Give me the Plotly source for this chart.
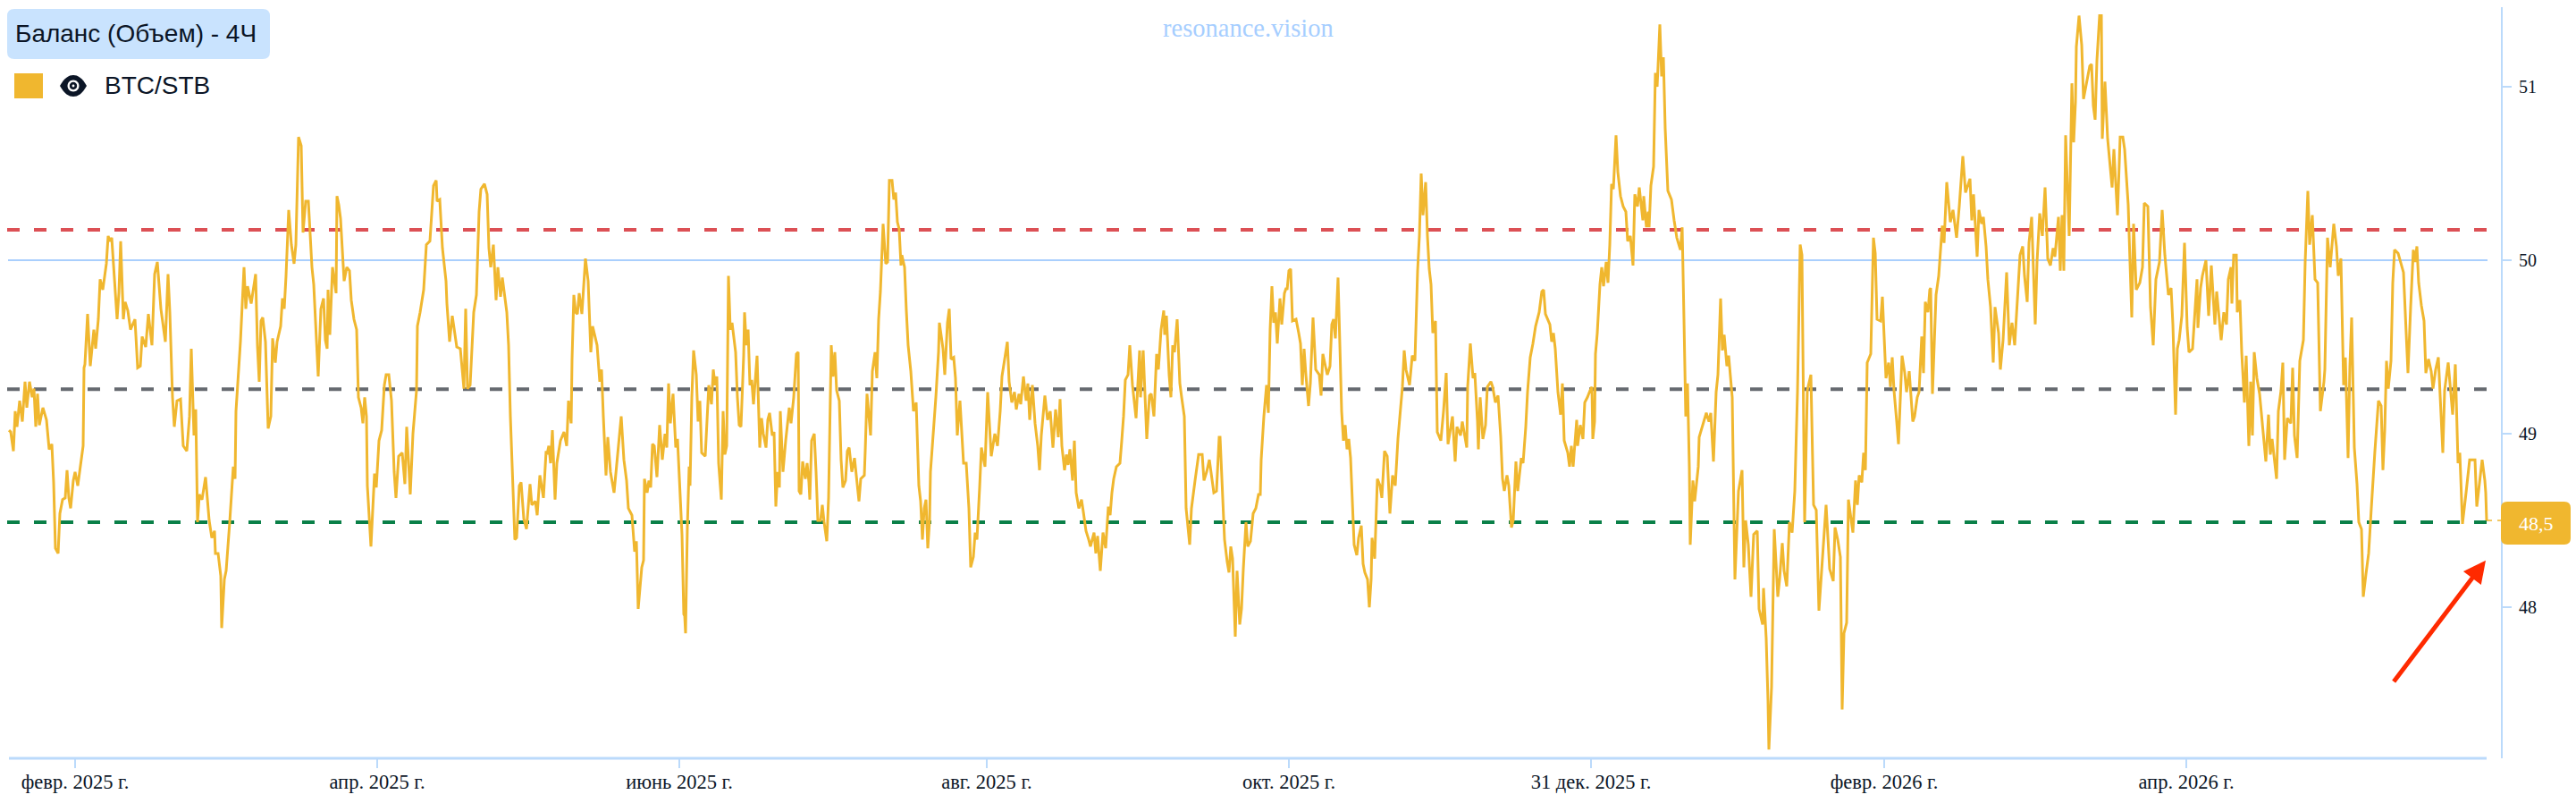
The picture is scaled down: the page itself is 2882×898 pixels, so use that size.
import plotly.graph_objects as go

# Balance (volume), 4H bars: (bar number, BTC/STB reading)
readings = [
(0,49.02),(2,49.01),(5,48.90),(7,49.13),(9,49.04),(12,49.19),(15,49.07),(18,49.30),(20,49.15),(23,49.30),
(26,49.21),(28,49.26),(30,49.04),(32,49.23),(34,49.05),(38,49.15),(42,49.08),(45,48.91),(48,48.94),(50,48.72),
(52,48.34),(55,48.31),(57,48.54),(60,48.62),(63,48.63),(65,48.79),(67,48.63),(69,48.57),(72,48.73),(74,48.78),
(77,48.70),(80,48.81),(83,48.93),(84,49.38),(85,49.40),(88,49.69),(91,49.39),(95,49.60),(97,49.49),(100,49.66),
(102,49.89),(105,49.83),(107,49.91),(109,49.98),(111,50.14),(113,50.11),(115,50.13),(119,49.80),(121,49.66),(123,49.81),
(125,50.11),(128,49.66),(130,49.76),(133,49.71),(136,49.60),(141,49.66),(144,49.38),(147,49.39),(149,49.56),(153,49.50),
(156,49.69),(160,49.51),(163,49.92),(166,49.99),(170,49.72),(175,49.53),(178,49.92),(180,49.70),(183,49.21),(185,49.04),
(188,49.19),(192,49.20),(195,48.93),(199,48.90),(202,49.10),(204,49.49),(207,48.99),(209,49.14),(211,48.49),(213,48.65),
(216,48.62),(220,48.75),(224,48.50),(227,48.40),(230,48.44),(231,48.31),(234,48.31),(237,48.18),(238,47.88),(241,48.16),
(243,48.21),(247,48.49),(251,48.81),(253,48.74),(254,49.13),(259,49.53),(261,49.79),(263,49.96),(265,49.72),(267,49.85),
(271,49.75),(276,49.92),(278,49.51),(280,49.30),(282,49.65),(284,49.67),(287,49.53),(290,49.03),(293,49.10),(295,49.55),
(298,49.41),(300,49.53),(304,49.62),(306,49.78),(308,49.72),(310,49.91),(313,50.29),(316,50.09),(319,49.98),(321,50.09),
(324,50.71),(327,50.66),(329,50.16),(332,50.34),(335,50.34),(339,49.96),(341,49.86),(344,49.55),(346,49.33),(349,49.72),
(352,49.78),(354,49.54),(356,49.49),(357,49.83),(359,49.57),(362,49.96),(366,49.81),(367,50.37),(369,50.32),(371,50.24),
(375,49.88),(378,49.96),(381,49.94),(383,49.77),(386,49.66),(389,49.60),(391,49.21),(394,49.15),(396,49.06),(398,49.21),
(400,49.10),(401,48.70),(403,48.49),(405,48.35),(409,48.77),(411,48.69),(414,48.96),(417,49.02),(420,49.28),(422,49.34),
(425,49.34),(428,49.19),(431,48.78),(433,48.63),(436,48.87),(440,48.89),(443,48.71),(445,49.04),(449,48.65),(452,49.00),
(456,49.25),(457,49.62),(460,49.70),(464,49.83),(467,50.09),(471,50.11),(475,50.43),(478,50.46),(479,50.34),(482,50.35),
(485,50.07),(489,49.88),(490,49.75),(493,49.53),(496,49.68),(501,49.50),(505,49.49),(509,49.26),(511,49.72),(513,49.26),
(516,49.28),(520,49.70),(523,49.80),(526,50.28),(528,50.41),(532,50.44),(535,50.38),(537,50.07),(539,49.96),(542,50.09),
(545,49.77),(547,49.96),(550,49.79),(552,49.90),(557,49.70),(559,49.51),(561,49.10),(563,48.78),(566,48.39),(568,48.40),
(571,48.70),(573,48.72),(576,48.51),(579,48.45),(583,48.71),(585,48.59),(589,48.61),(591,48.53),(594,48.76),(598,48.63),
(601,48.90),(602,48.88),(604,48.93),(606,48.83),(608,49.02),(611,48.62),(613,48.83),(617,48.96),(621,49.01),(624,48.93),
(626,49.19),(629,49.06),(630,49.43),(632,49.80),(634,49.70),(636,49.69),(638,49.81),(641,49.69),(645,50.01),(648,49.88),
(651,49.47),(653,49.62),(656,49.55),(658,49.51),(661,49.30),(663,49.37),(665,49.10),(668,48.76),(670,48.98),(673,48.78),
(677,48.66),(680,48.83),(685,49.10),(688,48.85),(691,48.73),(693,48.57),(697,48.53),(700,48.32),(702,48.38),(704,47.99),
(707,48.21),(708,48.23),
(710,48.27),(711,48.74),(714,48.66),(716,48.73),(718,48.69),(720,48.94),(722,48.93),(725,48.75),(728,49.05),(731,48.85),
(734,49.00),(736,48.92),(738,49.29),(740,49.06),(743,49.23),(746,48.92),(748,48.97),(749,48.85),(751,48.57),(753,48.42),
(755,47.96),(756,47.95),(757,47.85),(759,48.46),(761,48.81),(762,48.70),(764,49.21),(766,49.48),(769,49.34),(771,49.07),
(773,49.19),(775,48.89),(779,48.87),(782,49.13),(783,49.28),(786,49.17),(788,49.37),(790,49.28),(792,49.33),(794,48.83),
(797,48.62),(799,49.13),(801,48.88),(803,48.93),(805,49.91),(807,49.60),(809,49.64),(813,49.47),(815,49.21),(817,49.05),
(819,49.04),(822,49.45),(823,49.70),(825,49.51),(827,49.60),(829,49.28),(831,49.31),(833,49.17),(837,49.45),(840,48.92),
(842,49.09),(844,49.00),(847,48.92),(849,49.08),(851,49.12),(854,48.99),(856,49.01),(858,48.58),(860,48.78),(862,48.69),
(863,49.13),(866,48.78),(869,48.96),(873,49.15),(875,49.06),(878,49.21),(881,49.46),(883,49.47),(884,48.67),(886,48.65),
(888,48.84),(891,48.74),(893,48.83),(895,48.72),(896,48.62),(898,48.96),(901,49.00),(903,48.78),(905,48.50),(908,48.50),
(910,48.59),(912,48.49),(915,48.38),(917,48.63),(919,49.28),(920,49.51),(922,49.33),(924,49.47),(926,49.25),(929,49.19),
(931,48.85),(933,48.69),(936,48.73),(938,48.90),(940,48.92),(943,48.78),(946,48.86),(948,48.76),(951,48.61),(953,48.74),
(957,48.76),(958,48.90),(960,49.23),(964,48.99),(966,49.36),(969,49.47),(971,49.32),(973,49.66),(975,49.82),(978,50.21),
(981,49.98),(983,49.99),(985,50.46),(988,50.46),(990,50.35),(992,50.39),(994,50.22),(996,50.18),(998,49.97),(999,50.03),
(1002,49.96),(1004,49.71),(1006,49.51),(1009,49.36),(1012,49.13),(1015,49.18),(1018,48.70),(1020,48.61),(1022,48.39),(1024,48.57),
(1026,48.62),(1028,48.34),(1030,48.50),(1031,48.78),(1034,48.98),(1037,49.21),(1040,49.47),(1041,49.64),(1045,49.49),(1047,49.34),
(1050,49.64),(1052,49.72),(1054,49.43),(1057,49.44),(1059,49.32),(1061,48.99),(1064,49.19),(1068,48.83),(1071,48.83),(1074,48.57),
(1076,48.23),(1079,48.29),(1081,48.43),(1083,48.39),(1086,48.69),(1088,48.92),(1092,48.81),(1095,49.24),(1099,48.87),(1103,49.00),
(1106,48.93),(1109,49.13),(1111,49.33),(1117,49.53),(1119,49.30),(1122,49.18),(1125,49.24),(1127,49.14),(1130,49.23),(1132,49.17),
(1135,49.33),(1138,49.19),(1140,49.29),(1142,49.08),(1145,49.28),(1148,49.06),(1151,48.93),(1153,48.79),(1155,48.99),(1159,49.22),
(1162,49.08),(1165,49.13),(1168,48.92),(1171,49.14),(1174,48.98),(1176,49.20),(1178,48.93),(1181,48.79),(1183,48.88),(1185,48.82),
(1187,48.91),(1190,48.73),(1192,48.96),(1194,48.66),(1197,48.57),(1200,48.62),(1202,48.55),(1205,48.44),(1208,48.39),(1210,48.35),
(1214,48.43),(1216,48.31),(1218,48.41),(1221,48.21),(1224,48.43),(1227,48.34),(1230,48.58),(1232,48.53),(1234,48.66),(1236,48.74),
(1239,48.81),(1243,48.83),(1245,48.96),(1247,49.10),(1249,49.31),(1252,49.34),(1254,49.51),(1257,49.28),(1261,49.09),(1265,49.48),
(1266,49.21),(1269,49.48),(1273,48.97),(1276,49.22),(1278,49.23),(1281,49.10),(1284,49.46),(1286,49.37),(1289,49.60),(1292,49.71),
(1293,49.57),(1295,49.68),(1298,49.34),(1300,49.21),(1302,49.51),(1304,49.47),(1307,49.66),(1310,49.29),(1312,49.21),(1315,49.10),
(1317,48.57),(1321,48.36),(1323,48.57),(1325,48.66),(1327,48.73),(1331,48.88),(1335,48.88),(1337,48.73),(1340,48.78),(1343,48.85),
(1345,48.78),(1348,48.66),(1351,48.67),(1354,48.98),(1355,48.98),(1358,48.63),(1360,48.39),(1363,48.26),(1365,48.20),(1367,48.35),
(1369,48.28),(1372,47.83),(1374,48.21),(1377,47.90),(1379,47.99),(1381,48.22),(1384,48.49),(1386,48.35),(1389,48.38),(1392,48.54),
(1395,48.57),(1398,48.65),(1400,48.65),(1401,48.85),(1404,49.10),(1407,49.28),(1409,49.12),(1411,49.60),(1413,49.85),(1415,49.64),
(1417,49.70),(1419,49.52),(1422,49.78),(1424,49.63),(1427,49.81),(1429,49.84),
(1430,49.83),(1432,49.94),(1434,49.95),(1436,49.65),(1440,49.66),(1443,49.58),(1445,49.52),(1447,49.28),(1449,49.49),(1451,49.34),
(1454,49.16),(1456,49.29),(1459,49.67),(1462,49.37),(1466,49.34),(1468,49.22),(1470,49.46),(1472,49.41),(1475,49.34),(1478,49.39),
(1480,49.63),(1482,49.66),(1484,49.55),(1487,49.90),(1489,49.55),(1491,49.13),(1493,48.96),(1495,49.05),(1497,48.91),(1499,48.97),
(1501,48.86),(1503,48.59),(1505,48.36),(1508,48.30),(1510,48.40),(1513,48.47),(1515,48.25),(1517,48.20),(1520,48.16),(1522,48.00),
(1524,48.16),(1525,48.40),(1528,48.28),(1531,48.74),(1534,48.70),(1536,48.63),(1539,48.90),(1542,48.87),(1545,48.54),(1548,48.76),
(1551,48.70),(1554,48.97),(1556,49.10),(1559,49.27),(1561,49.48),(1563,49.37),(1567,49.28),(1570,49.45),(1573,49.42),(1576,49.94),
(1578,50.14),(1580,50.50),(1582,50.26),(1585,50.45),(1587,50.14),(1589,49.95),(1591,49.86),(1593,49.58),(1596,49.65),(1598,49.01),
(1602,48.96),(1605,49.13),(1608,49.35),(1610,48.94),(1615,49.10),(1618,48.84),(1620,49.04),(1624,48.99),(1626,49.07),(1631,48.92),
(1632,49.27),(1635,49.52),(1638,49.32),(1640,49.35),(1643,49.07),(1644,48.91),(1646,49.21),(1649,48.97),(1652,49.05),(1654,49.27),
(1658,49.30),(1660,49.27),(1663,49.18),(1666,49.22),(1669,48.98),(1671,48.74),(1673,48.67),(1676,48.76),(1678,48.70),(1681,48.46),
(1683,48.50),(1686,48.84),(1688,48.67),(1692,48.86),(1694,48.83),(1697,49.04),(1699,49.24),(1702,49.44),(1705,49.52),(1708,49.62),
(1712,49.70),(1715,49.82),(1717,49.83),(1719,49.69),(1724,49.63),(1726,49.53),(1728,49.58),(1730,49.49),(1733,49.24),(1736,49.11),
(1738,49.29),(1740,48.96),(1744,48.89),(1746,48.81),(1748,48.93),(1750,48.81),(1754,49.08),(1755,48.93),(1758,49.05),(1761,48.97),
(1763,49.18),(1766,49.21),(1769,49.25),(1771,49.27),(1772,48.97),(1774,49.07),(1775,49.46),(1777,49.58),(1780,49.86),(1782,49.96),
(1784,49.85),(1787,49.99),(1789,49.87),(1791,50.09),(1793,50.44),(1795,50.41),(1798,50.72),(1800,50.51),(1803,50.37),(1806,50.31),
(1809,50.28),(1811,50.11),(1814,50.14),(1817,49.97),(1819,50.38),(1822,50.31),(1824,50.42),(1828,50.23),(1829,50.37),(1832,50.19),
(1834,50.28),(1835,50.19),(1837,50.43),(1840,50.54),(1842,51.08),(1844,51.00),(1847,51.36),(1849,51.06),(1851,51.17),(1853,50.76),
(1856,50.40),(1860,50.35),(1863,50.23),(1866,50.13),(1870,50.06),(1872,50.19),(1874,49.66),(1876,49.10),(1878,49.29),(1880,48.81),
(1881,48.36),(1884,48.73),(1886,48.61),(1890,48.81),(1891,48.98),(1895,49.05),(1899,49.12),(1902,49.07),(1904,49.12),(1907,48.84),
(1910,49.24),(1912,49.34),(1915,49.78),(1917,49.48),(1919,49.57),(1922,49.39),(1924,49.45),(1928,49.21),(1930,48.47),(1931,48.16),
(1935,48.67),(1939,48.79),(1941,48.23),(1943,48.50),(1946,48.36),(1949,48.06),(1952,48.42),(1956,48.44),(1958,47.99),(1962,47.90),
(1963,48.11),(1966,47.82),(1968,47.46),(1969,47.18),(1972,47.54),(1975,48.45),(1979,48.06),(1981,48.16),(1984,48.37),(1986,48.21),
(1989,48.12),(1992,48.49),(1995,48.43),(1998,48.67),(2001,49.24),(2004,50.09),(2006,50.03),(2008,48.96),(2009,48.49),(2012,49.25),
(2016,49.34),(2019,48.59),(2022,48.56),(2025,47.98),(2028,48.22),(2030,48.38),(2033,48.59),(2037,48.22),(2041,48.15),(2043,48.46),
(2046,48.39),(2049,48.29),(2051,47.41),(2053,47.85),(2056,47.91),(2058,48.62),(2063,48.43),(2066,48.73),(2068,48.59),(2070,48.76),
(2073,48.72),(2075,48.89),(2077,48.79),(2079,49.41),(2083,49.46),(2086,50.13),(2088,50.04),(2090,49.66),(2094,49.65),(2096,49.79),
(2098,49.58),(2100,49.32),(2103,49.41),(2105,49.27),(2107,49.44),(2109,49.25),(2112,49.07),(2114,48.94),(2118,49.45),(2121,49.35),
(2123,49.24),(2126,49.36),(2130,49.07),(2132,49.10),(2135,49.21),(2137,49.24),(2140,49.56),(2142,49.35),(2144,49.76),(2147,49.70),
(2149,49.83),
(2150,49.84),(2152,49.23),(2156,49.80),(2159,49.91),(2163,50.20),(2165,50.10),(2168,50.45),(2172,50.22),(2175,50.29),(2179,50.13),
(2182,50.31),(2186,50.60),(2189,50.39),(2194,50.47),(2196,50.23),(2198,50.38),(2202,50.02),(2204,50.29),(2207,50.21),(2209,50.25),
(2212,50.08),(2214,49.89),(2217,49.73),(2220,49.41),(2222,49.73),(2226,49.58),(2228,49.37),(2231,49.54),(2235,49.93),(2238,49.51),
(2241,49.64),(2244,49.51),(2248,49.89),(2250,50.03),(2253,50.08),(2255,49.91),(2258,49.76),(2260,50.10),(2263,50.25),(2265,49.87),
(2267,49.63),(2269,49.99),(2272,50.27),(2275,50.14),(2278,50.42),(2281,50.01),(2284,49.97),(2287,50.07),(2289,50.02),(2293,50.25),
(2295,49.94),(2297,50.26),(2299,49.94),(2301,50.72),(2305,50.14),(2308,51.02),(2310,50.68),(2312,50.91),(2313,51.23),(2316,51.41),
(2319,51.24),(2321,50.93),(2325,51.03),(2328,51.12),(2330,51.13),(2332,50.89),(2334,50.81),(2336,51.15),(2339,51.41),(2341,51.41),
(2342,50.70),(2345,51.03),(2348,50.70),(2351,50.55),(2353,50.42),(2355,50.64),(2359,50.26),(2362,50.71),(2365,50.71),(2367,50.64),
(2371,50.32),(2373,49.99),(2375,49.67),(2377,50.21),(2380,49.83),(2384,49.87),(2387,49.96),(2389,50.33),(2393,50.31),(2396,49.73),
(2399,49.51),(2402,49.89),(2406,49.99),(2409,50.29),(2412,50.03),(2416,49.80),(2419,49.84),(2421,49.63),(2424,49.11),(2426,49.49),
(2428,49.54),(2431,49.68),(2434,50.10),(2437,49.61),(2439,49.47),(2443,49.49),(2445,49.65),(2448,49.89),(2449,49.61),(2452,49.84),
(2454,49.91),(2458,50.00),(2461,49.68),(2464,49.97),(2468,49.63),(2470,49.82),(2475,49.54),(2478,49.70),(2481,49.63),(2483,49.89),
(2486,49.96),(2487,49.75),(2489,50.03),(2492,50.03),(2493,49.70),(2496,49.77),(2498,49.47),(2501,49.18),(2503,49.45),(2506,48.93),
(2508,49.30),(2510,48.99),(2512,49.47),(2515,49.32),(2518,49.23),(2522,49.02),(2525,48.84),(2528,49.11),(2530,48.88),(2532,48.97),
(2537,48.74),(2539,49.13),(2542,49.25),(2544,49.41),(2546,48.85),(2549,49.09),(2553,49.06),(2555,49.38),(2557,48.99),(2560,48.86),
(2563,49.42),(2567,49.54),(2569,49.99),(2572,50.40),(2574,50.09),(2577,50.26),(2580,49.89),(2583,49.87),(2586,49.13),(2590,49.30),
(2591,49.37),(2594,50.13),(2597,49.96),(2601,50.21),(2604,50.08),(2606,49.91),(2609,50.01),(2612,49.28),(2614,49.44),(2617,48.86),
(2619,49.39),(2621,49.67),(2624,48.92),(2627,48.71),(2629,48.49),(2632,48.45),(2634,48.06),(2637,48.19),(2640,48.31),(2643,48.57),
(2644,48.66),(2647,48.90),(2651,49.19),(2654,49.16),(2656,48.79),(2658,49.02),(2660,49.42),(2662,49.26),(2665,49.42),(2667,49.87),
(2669,50.06),(2673,50.04),(2679,49.93),(2682,49.61),(2684,49.35),(2687,49.73),(2690,50.06),(2692,49.99),(2694,50.08),(2696,49.87),
(2699,49.74),(2702,49.65),(2704,49.35),(2707,49.43),(2710,49.36),(2712,49.26),(2715,49.37),(2718,49.44),(2721,49.06),(2723,48.89),
(2725,49.25),(2729,49.41),(2732,49.23),(2734,49.11),(2737,49.40),(2740,48.83),(2742,48.89),(2745,48.48),(2749,48.66),(2753,48.85),
(2756,48.85),(2759,48.85),(2761,48.58),(2764,48.73),(2767,48.85),(2770,48.73),(2771,48.66),(2772,48.50),
]
bar_index = [r[0] for r in readings]
balance = [r[1] for r in readings]

last_value = 48.5
last_label = "48,5"
upper_band = 50.175
middle_band = 49.257
lower_band = 48.49
reference_level = 50.0

tick_bars = [74, 412, 750, 1094, 1432, 1770, 2098, 2436]
tick_labels = ["февр. 2025 г.", "апр. 2025 г.", "июнь 2025 г.", "авг. 2025 г.",
               "окт. 2025 г.", "31 дек. 2025 г.", "февр. 2026 г.", "апр. 2026 г."]
value_ticks = [48, 49, 50, 51]

GOLD = "#F0B72F"
AXIS = "#BBDAFB"
INK = "#0B1526"
SERIF = "Liberation Serif"
SANS = "Liberation Sans"

W, H = 2882, 898
LEFT, RIGHT, TOP, BOTTOM = 8, 2798, 8, 848


def px(x):
    return (x - LEFT) / (RIGHT - LEFT)


def py(y):
    return (BOTTOM - y) / (BOTTOM - TOP)


def rounded(w, h, r, dy=0):
    a, b = w / 2, h / 2
    t, u = dy - b, dy + b
    return (f"M{-a + r},{t} L{a - r},{t} Q{a},{t} {a},{t + r} L{a},{u - r} Q{a},{u} {a - r},{u} "
            f"L{-a + r},{u} Q{-a},{u} {-a},{u - r} L{-a},{t + r} Q{-a},{t} {-a + r},{t} Z")


def disc(r):
    k = 0.5523 * r
    return (f"M{-r},0 C{-r},{k} {-k},{r} 0,{r} C{k},{r} {r},{k} {r},0 "
            f"C{r},{-k} {k},{-r} 0,{-r} C{-k},{-r} {-r},{-k} {-r},0 Z")


def pixel_shape(path, x, y, color, yref="paper"):
    return dict(type="path", path=path, xref="paper", yref=yref, xsizemode="pixel", ysizemode="pixel",
                xanchor=x, yanchor=y, fillcolor=color, line=dict(width=0), layer="above")


fig = go.Figure()

# horizontal levels, under the series
fig.add_trace(go.Scatter(x=[-1, 2773], y=[reference_level] * 2, mode="lines",
                         line=dict(color="#A9CFFD", width=2), hoverinfo="skip"))
for level, color in ((upper_band, "#DC5055"), (middle_band, "#666A70"), (lower_band, "#0A8048")):
    fig.add_trace(go.Scatter(x=[-2, 2773], y=[level] * 2, mode="lines",
                             line=dict(color=color, width=4, dash="14px,16px"), hoverinfo="skip"))

fig.add_trace(go.Scatter(x=bar_index, y=balance, mode="lines", name="BTC/STB",
                         line=dict(color=GOLD, width=3)))

# guide from the last reading to the value tag
fig.add_trace(go.Scatter(x=[bar_index[-1], 2788], y=[last_value] * 2, mode="lines",
                         line=dict(color=GOLD, width=1.5, dash="6px,6px"), hoverinfo="skip"))

eye_x, eye_y = px(82), py(96)
almond = "M-15,0 C-10,-9 -5,-12 0,-12 C5,-12 10,-9 15,0 C10,9 5,12 0,12 C-5,12 -10,9 -15,0 Z"
shapes = [
    dict(type="line", xref="x", yref="paper", x0=0, x1=bar_index[-1], y0=0, y1=0,
         line=dict(color=AXIS, width=3), layer="below"),
    pixel_shape(rounded(294, 56, 8), px(155), py(38), "#C9E3FE"),
    dict(type="rect", xref="paper", yref="paper", x0=px(16), x1=px(48), y0=py(110), y1=py(82),
         fillcolor=GOLD, line=dict(width=0), layer="above"),
    pixel_shape(almond, eye_x, eye_y, INK),
    pixel_shape(disc(6.5), eye_x, eye_y, "#FFFFFF"),
    pixel_shape(disc(4.2), eye_x, eye_y, INK),
    pixel_shape(disc(1.4), eye_x, eye_y, "#FFFFFF"),
    pixel_shape(rounded(78, 48, 7, dy=-3), 1 + 39 / (RIGHT - LEFT), last_value, GOLD, yref="y"),
]

annotations = [
    dict(xref="paper", yref="paper", x=px(15), y=py(38), text="Баланс (Объем) - 4Ч", showarrow=False,
         xanchor="left", yanchor="middle", font=dict(family=SANS, size=28, color=INK)),
    dict(xref="paper", yref="paper", x=px(115), y=py(96), text="BTC/STB", showarrow=False,
         xanchor="left", yanchor="middle", font=dict(family=SANS, size=28, color=INK)),
    dict(xref="paper", yref="paper", x=px(1396), y=py(31), text="resonance.vision", showarrow=False,
         xanchor="center", yanchor="middle", font=dict(family=SERIF, size=28.5, color="#A6CEFF")),
    dict(xref="paper", yref="y", x=1 + 39 / (RIGHT - LEFT), y=last_value, yshift=-3, text=last_label,
         showarrow=False, xanchor="center", yanchor="middle",
         font=dict(family=SERIF, size=22, color="#FFFFFF")),
    dict(xref="x", yref="y", x=2771, y=48.27, ax=-104, ay=137, text="", showarrow=True,
         arrowhead=2, arrowsize=1, arrowwidth=5, arrowcolor="#FF2A00", standoff=0),
]

fig.update_layout(
    width=W, height=H, autosize=False, showlegend=False,
    paper_bgcolor="#FFFFFF", plot_bgcolor="#FFFFFF",
    margin=dict(l=LEFT, r=W - RIGHT, t=TOP, b=H - BOTTOM, pad=0),
    shapes=shapes, annotations=annotations,
    xaxis=dict(range=[-2, 2788], showgrid=False, zeroline=False, showline=False,
               tickmode="array", tickvals=tick_bars, ticktext=tick_labels,
               ticks="outside", ticklen=10, ticklabelstandoff=-4, tickwidth=2, tickcolor=AXIS,
               tickfont=dict(family=SERIF, size=22.5, color=INK)),
    yaxis=dict(range=[47.129, 51.459], side="right", showgrid=False, zeroline=False,
               showline=True, linecolor=AXIS, linewidth=2,
               tickmode="array", tickvals=value_ticks, ticktext=[str(v) for v in value_ticks],
               ticks="outside", ticklen=10, ticklabelstandoff=4, tickwidth=2, tickcolor=AXIS,
               tickfont=dict(family=SERIF, size=20, color=INK)),
)

fig.write_html("out.html", config=dict(displayModeBar=False))
